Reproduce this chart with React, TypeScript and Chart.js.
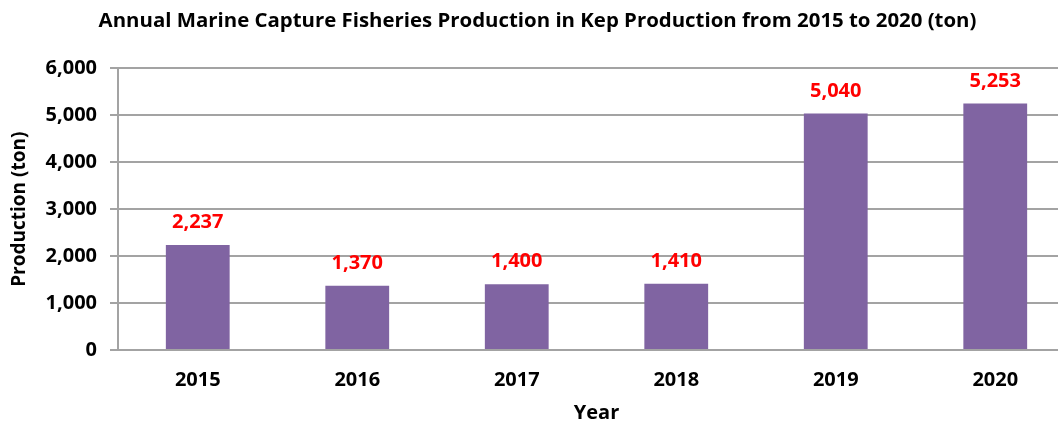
import React, { useEffect, useRef } from "react";
import { Chart, registerables } from "chart.js";

Chart.register(...registerables);

const years = ["2015", "2016", "2017", "2018", "2019", "2020"];
const production = [2237, 1370, 1400, 1410, 5040, 5253];
const yTicks = [0, 1000, 2000, 3000, 4000, 5000, 6000];

const FONT = "'Open Sans', sans-serif";
const GRID = "#a3a3a3";

const labelPlugin = {
  id: "valueLabels",
  afterDatasetsDraw(chart: any) {
    const ctx = chart.ctx;
    const meta = chart.getDatasetMeta(0);
    ctx.save();
    ctx.fillStyle = "#ff0000";
    ctx.font = `bold 20px ${FONT}`;
    ctx.textAlign = "center";
    ctx.textBaseline = "alphabetic";
    meta.data.forEach((bar: any, i: number) => {
      const v = chart.data.datasets[0].data[i] as number;
      ctx.fillText(v.toLocaleString("en-US"), bar.x, bar.y - 17);
    });
    ctx.restore();
  },
};

export default function App() {
  const ref = useRef<HTMLCanvasElement | null>(null);
  useEffect(() => {
    if (!ref.current) return;
    const chart = new Chart(ref.current, {
      type: "bar",
      data: {
        labels: years,
        datasets: [
          {
            data: production,
            backgroundColor: "#8064a2",
            barPercentage: 0.4,
            categoryPercentage: 1,
          },
        ],
      },
      options: {
        animation: false,
        responsive: true,
        maintainAspectRatio: false,
        layout: { padding: { left: 0, right: 0, top: 0, bottom: 0 } },
        plugins: {
          legend: { display: false },
          tooltip: { enabled: false },
          title: {
            display: true,
            text: "Annual Marine Capture Fisheries Production in Kep Production from 2015 to 2020 (ton)",
            color: "#000",
            font: { family: FONT, size: 20.4, weight: "bold" },
            padding: { top: 9, bottom: 35 },
          },
        },
        scales: {
          x: {
            afterFit(scale: any) {
              scale.height = 75;
            },
            grid: { display: false, drawTicks: false },
            border: { display: true, color: GRID, width: 2 },
            ticks: {
              color: "#000",
              font: { family: FONT, size: 20, weight: "bold" },
              padding: 18,
            },
            title: {
              display: true,
              text: "Year",
              color: "#000",
              font: { family: FONT, size: 20, weight: "bold" },
              padding: { top: 0, bottom: 0 },
            },
          },
          y: {
            min: 0,
            max: 6000,
            afterFit(scale: any) {
              scale.width = 118;
            },
            afterBuildTicks(scale: any) {
              scale.ticks = yTicks.map((v) => ({ value: v }));
            },
            grid: { color: GRID, lineWidth: 2, tickLength: 8, drawTicks: true },
            border: { display: true, color: GRID, width: 2 },
            ticks: {
              color: "#000",
              font: { family: FONT, size: 20, weight: "bold" },
              padding: 13,
              callback: (v: any) => Number(v).toLocaleString("en-US"),
            },
            title: {
              display: true,
              text: "Production (ton)",
              color: "#000",
              font: { family: FONT, size: 19, weight: "bold" },
              padding: { top: 8.5, bottom: 0 },
            },
          },
        },
      },
      plugins: [labelPlugin],
    });
    return () => chart.destroy();
  }, []);
  return (
    <div style={{ position: "fixed", left: 0, top: 0, width: 1075, height: 425, background: "#fff" }}>
      <canvas ref={ref} />
    </div>
  );
}
